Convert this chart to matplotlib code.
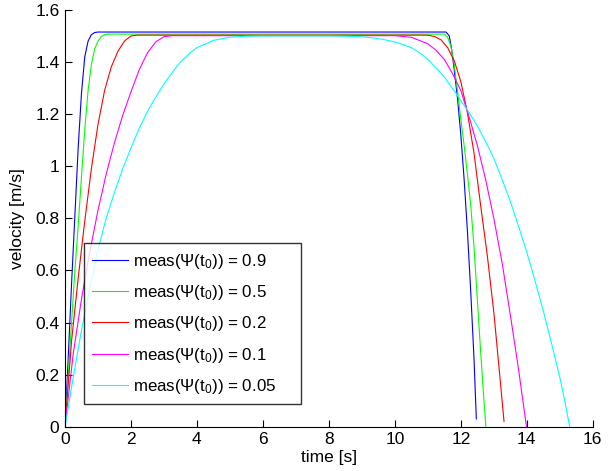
import matplotlib
matplotlib.use("Agg")
import matplotlib.pyplot as plt

plt.rcParams["font.family"] = ["Liberation Sans", "DejaVu Sans"]
plt.rcParams["mathtext.fontset"] = "custom"
plt.rcParams["mathtext.rm"] = "Liberation Sans"
plt.rcParams["mathtext.it"] = "Liberation Sans:italic"

# values (time [s], velocity [m/s])
t_09 = [0, 0.1, 0.2, 0.3, 0.4, 0.5, 0.6, 0.7, 0.8, 0.9, 1.0, 11.55,
        11.65, 11.72, 11.8, 11.9, 12.0, 12.1, 12.2, 12.3, 12.4, 12.47]
v_09 = [0, 0.27, 0.55, 0.81, 1.07, 1.28, 1.42, 1.48, 1.505, 1.513, 1.515, 1.515,
        1.50, 1.45, 1.37, 1.26, 1.12, 0.95, 0.75, 0.52, 0.26, 0.03]

t_05 = [0, 0.1, 0.2, 0.3, 0.4, 0.5, 0.6, 0.7, 0.8, 0.9, 1.0, 1.1, 1.2, 1.3, 11.5,
        11.6, 11.7, 11.8, 11.9, 12.0, 12.1, 12.2, 12.3, 12.4, 12.5, 12.6, 12.7, 12.76]
v_05 = [0, 0.2, 0.4, 0.6, 0.77, 0.96, 1.14, 1.29, 1.39, 1.45, 1.48, 1.498, 1.505, 1.507, 1.507,
        1.495, 1.46, 1.39, 1.29, 1.18, 1.08, 0.97, 0.85, 0.69, 0.49, 0.29, 0.10, 0.0]

t_02 = [0, 0.2, 0.4, 0.6, 0.8, 1.0, 1.2, 1.4, 1.6, 1.8, 2.0, 2.2, 11.0,
        11.2, 11.4, 11.6, 11.8, 12.0, 12.2, 12.4, 12.6, 12.8, 13.0, 13.2, 13.31]
v_02 = [0, 0.33, 0.57, 0.79, 0.99, 1.16, 1.29, 1.38, 1.44, 1.48, 1.50, 1.503, 1.503,
        1.498, 1.485, 1.455, 1.405, 1.325, 1.205, 1.05, 0.85, 0.66, 0.44, 0.17, 0.02]

t_01 = [0, 0.25, 0.5, 0.75, 1.0, 1.25, 1.5, 1.75, 2.0, 2.25, 2.5, 2.75, 3.0, 3.25, 10.0,
        10.5, 11.0, 11.25, 11.5, 11.75, 12.0, 12.25, 12.5, 12.75, 13.0, 13.25, 13.5, 13.75, 13.99]
v_01 = [0, 0.28, 0.49, 0.67, 0.83, 0.97, 1.09, 1.195, 1.285, 1.37, 1.435, 1.477, 1.497, 1.501, 1.501,
        1.495, 1.47, 1.445, 1.41, 1.355, 1.29, 1.19, 1.08, 0.95, 0.80, 0.63, 0.43, 0.22, 0.0]

t_005 = [0, 0.25, 0.5, 0.75, 1.0, 1.25, 1.5, 1.75, 2.0, 2.25, 2.5, 2.75, 3.0, 3.25, 3.5,
         3.75, 4.0, 4.5, 5.0, 5.5, 6.0, 8.0, 8.5, 9.0, 9.5, 9.75, 10.0, 10.25, 10.5, 10.75,
         11.0, 11.25, 11.5, 11.75, 12.0, 12.25, 12.5, 12.75, 13.0, 13.25, 13.5, 13.75, 14.0,
         14.25, 14.5, 14.75, 15.0, 15.15, 15.3]
v_005 = [0, 0.19, 0.37, 0.53, 0.68, 0.80, 0.90, 0.99, 1.07, 1.145, 1.21, 1.265, 1.315, 1.36, 1.40,
         1.43, 1.455, 1.483, 1.495, 1.499, 1.50, 1.50, 1.499, 1.497, 1.49, 1.484, 1.477, 1.467, 1.455, 1.435,
         1.41, 1.378, 1.342, 1.298, 1.253, 1.206, 1.155, 1.095, 1.03, 0.95, 0.865, 0.77, 0.67,
         0.56, 0.445, 0.32, 0.19, 0.10, 0.0]

series = [(t_09, v_09, "0.9", (0, 0, 1)),
          (t_05, v_05, "0.5", (0, 1, 0)),
          (t_02, v_02, "0.2", (1, 0, 0)),
          (t_01, v_01, "0.1", (1, 0, 1)),
          (t_005, v_005, "0.05", (0, 1, 1))]

fig = plt.figure(figsize=(6.13, 4.71), dpi=100)
ax = fig.add_axes([0.106, 0.094, 0.861, 0.885])

for t, v, lab, col in series:
    ax.plot(t, v, color=col, lw=0.8, label="meas(Ψ(t$_0$)) = " + lab)

ax.set_xlim(0, 16)
ax.set_ylim(0, 1.6)
ax.set_xticks(range(0, 17, 2))
ax.set_yticks([0, 0.2, 0.4, 0.6, 0.8, 1, 1.2, 1.4, 1.6])
ax.set_yticklabels(["0", "0.2", "0.4", "0.6", "0.8", "1", "1.2", "1.4", "1.6"])
ax.tick_params(direction="in", length=5, width=0.8, labelsize=12.5, pad=4)
for s in ["left", "bottom"]:
    ax.spines[s].set_linewidth(0.8)
ax.spines["top"].set_visible(False)
ax.spines["right"].set_visible(False)
ax.set_xlabel("time [s]", fontsize=12.5, labelpad=2)
ax.set_ylabel("velocity [m/s]", fontsize=12.5, labelpad=7)

leg = ax.legend(loc="lower left", bbox_to_anchor=(0.036, 0.054, 0.412, 0.3),
                mode="expand", fontsize=12.2, frameon=True, fancybox=False,
                handlelength=2.1, handletextpad=0.3, labelspacing=0.72,
                borderpad=0.5, borderaxespad=0)
leg.get_frame().set_edgecolor("black")
leg.get_frame().set_linewidth(1.0)

plt.savefig("out.png", dpi=100)
plt.close()
